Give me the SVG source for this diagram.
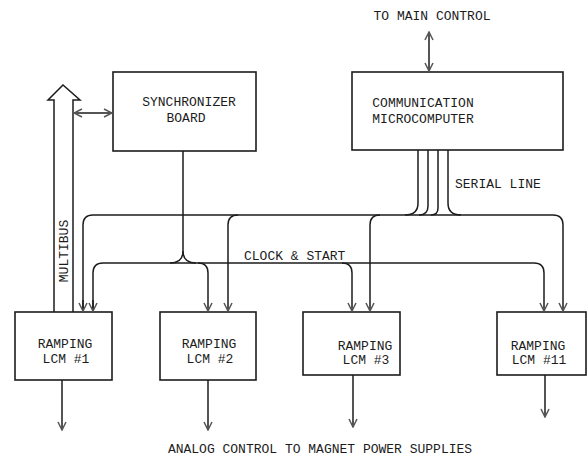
<svg xmlns="http://www.w3.org/2000/svg" width="588" height="456" viewBox="0 0 588 456">
<style>
.box{fill:none;stroke:#1c1c1c;stroke-width:1.6}
.ln{fill:none;stroke:#1c1c1c;stroke-width:1.5}
.t{font-family:"Liberation Mono","DejaVu Sans Mono",monospace;font-size:13px;fill:#1c1c1c;text-anchor:middle}
.ts{font-family:"Liberation Mono","DejaVu Sans Mono",monospace;font-size:13px;fill:#1c1c1c}
</style>
<defs>
<marker id="ah" viewBox="0 0 10 10" refX="9" refY="5" markerWidth="10" markerHeight="10" markerUnits="userSpaceOnUse" orient="auto-start-reverse">
<path d="M1,1 L9,5 L1,9" fill="none" stroke="#555" stroke-width="1.5"/>
</marker>
</defs>
<rect width="588" height="456" fill="#fff"/>
<g id="sync"><rect class="box" x="113" y="72" width="143" height="79"/><text class="t" x="189" y="106">SYNCHRONIZER</text><text class="t" x="186" y="122">BOARD</text></g>
<g id="comm"><rect class="box" x="352" y="72" width="211" height="78"/><text class="t" x="423" y="107">COMMUNICATION</text><text class="t" x="423" y="123">MICROCOMPUTER</text></g>
<g id="lcm1"><rect class="box" x="15" y="312" width="97" height="68"/><text class="t" x="65" y="348">RAMPING</text><text class="t" x="66" y="363">LCM #1</text></g>
<g id="lcm2"><rect class="box" x="160" y="312" width="96" height="68"/><text class="t" x="209" y="348">RAMPING</text><text class="t" x="210" y="363">LCM #2</text></g>
<g id="lcm3"><rect class="box" x="303" y="312" width="97" height="63"/><text class="t" x="365" y="350">RAMPING</text><text class="t" x="366" y="364">LCM #3</text></g>
<g id="lcm11"><rect class="box" x="497" y="312" width="89" height="63"/><text class="t" x="538" y="350">RAMPING</text><text class="t" x="539" y="364">LCM #11</text></g>
<g id="labels">
<text class="t" x="432" y="20">TO MAIN CONTROL</text>
<text class="ts" x="455" y="188">SERIAL LINE</text>
<text class="ts" x="244" y="260">CLOCK &amp; START</text>
<text class="t" transform="translate(68,251) rotate(-90)">MULTIBUS</text>
<text class="t" x="320" y="453">ANALOG CONTROL TO MAGNET POWER SUPPLIES</text>
</g>
<g id="connectors">
<path class="ln" d="M429,32 V71" marker-start="url(#ah)" marker-end="url(#ah)"/>
<path class="ln" d="M54,312 V100 H48 L63,85 L80,100 H73 V312"/>
<path class="ln" d="M74,113 H112" marker-start="url(#ah)" marker-end="url(#ah)"/>
<path class="ln" d="M418,150 V203 Q418,215 405,215"/>
<path class="ln" d="M428,150 V206 Q428,215 419,215"/>
<path class="ln" d="M438,150 V208 Q438,215 431,215"/>
<path class="ln" d="M448,150 V203 Q448,215 461,215"/>
<path class="ln" d="M83,311 V225 Q83,215 93,215 H553 Q563,215 563,225 V311" marker-end="url(#ah)"/>
<path class="ln" d="M83,300 V311" marker-end="url(#ah)"/>
<path class="ln" d="M238,215 Q228,215 228,225 V311" marker-end="url(#ah)"/>
<path class="ln" d="M380,215 Q370,215 370,225 V311" marker-end="url(#ah)"/>
<path class="ln" d="M183,151 V251 Q183,263 170,263"/>
<path class="ln" d="M183,251 Q183,263 196,263"/>
<path class="ln" d="M93,311 V273 Q93,263 103,263 H534 Q544,263 544,273 V311" marker-end="url(#ah)"/>
<path class="ln" d="M93,300 V311" marker-end="url(#ah)"/>
<path class="ln" d="M198,263 Q208,263 208,273 V311" marker-end="url(#ah)"/>
<path class="ln" d="M342,263 Q352,263 352,273 V311" marker-end="url(#ah)"/>
<path class="ln" d="M62,380 V430" marker-end="url(#ah)"/>
<path class="ln" d="M208,380 V430" marker-end="url(#ah)"/>
<path class="ln" d="M353,375 V427" marker-end="url(#ah)"/>
<path class="ln" d="M545,375 V417" marker-end="url(#ah)"/>
</g>
</svg>
